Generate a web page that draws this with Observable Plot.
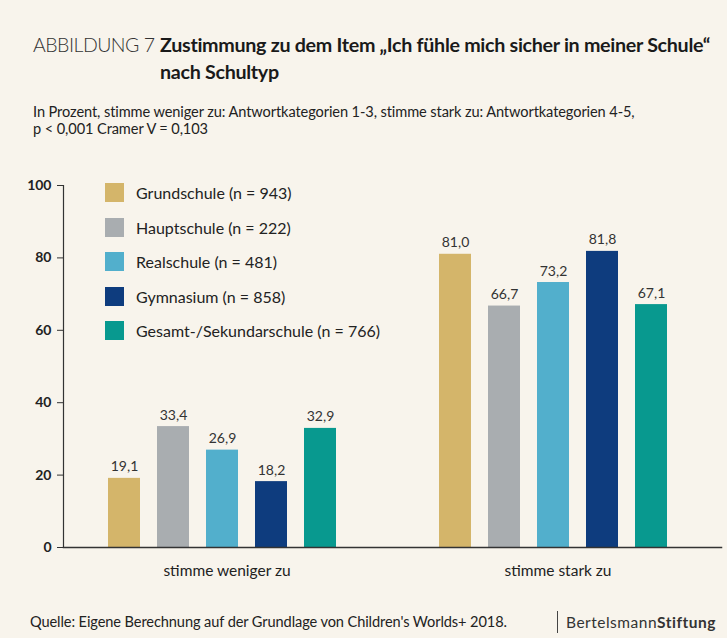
<!DOCTYPE html>
<html><head><meta charset="utf-8">
<script src="https://cdn.jsdelivr.net/npm/d3@7"></script>
<script src="https://cdn.jsdelivr.net/npm/@observablehq/plot@0.6"></script>
<style>
html,body{margin:0;padding:0;background:#f8f4ec;}
body{font-family:Lato,"Open Sans",sans-serif;color:#222;}
#wrap{position:relative;width:727px;height:638px;overflow:hidden;background:#f8f4ec;}
#abb{position:absolute;left:33px;top:31px;font-size:19.5px;line-height:27px;font-weight:300;color:#333;letter-spacing:-0.5px;}
#title{position:absolute;left:160px;top:31px;font-size:19.7px;line-height:27px;font-weight:700;color:#1a1a1a;letter-spacing:-0.3px;}
#sub{position:absolute;left:33px;top:103px;font-size:14.6px;line-height:17px;color:#222;letter-spacing:-0.1px;}
#chart{position:absolute;left:0;top:170px;}
#legend{position:absolute;left:105px;top:183px;}
.li{display:flex;align-items:center;height:19px;margin-bottom:15.5px;}
.sw{width:19px;height:19px;margin-right:12px;flex:none;}
.lt{font-size:16px;color:#222;}
#src{position:absolute;left:30px;top:613px;font-size:14.6px;color:#222;letter-spacing:-0.1px;}
#brand{position:absolute;left:557px;top:611px;height:22px;border-left:1.2px solid #444;padding-left:8px;font-size:15.5px;line-height:22px;color:#333;letter-spacing:0.5px;}
</style></head>
<body>
<div id="wrap">
  <div id="abb">ABBILDUNG 7</div>
  <div id="title">Zustimmung zu dem Item „Ich fühle mich sicher in meiner Schule“<br>nach Schultyp</div>
  <div id="sub">In Prozent, stimme weniger zu: Antwortkategorien 1-3, stimme stark zu: Antwortkategorien 4-5,<br>p &lt; 0,001 Cramer V = 0,103</div>
  <div id="chart"></div>
  <div id="legend"></div>
  <div id="src">Quelle: Eigene Berechnung auf der Grundlage von Children's Worlds+ 2018.</div>
  <div id="brand">Bertelsmann<b>Stiftung</b></div>
</div>
<script>
const groups = ["stimme weniger zu", "stimme stark zu"];
const schools = ["Grundschule", "Hauptschule", "Realschule", "Gymnasium", "Gesamt-/Sekundarschule"];
const nValues = [943, 222, 481, 858, 766];
const wenigerValues = [19.1, 33.4, 26.9, 18.2, 32.9];
const starkValues = [81.0, 66.7, 73.2, 81.8, 67.1];
const colors = ["#d4b56a", "#a9adb0", "#52afcc", "#0e3c7e", "#08998f"];
const yTicks = [0, 20, 40, 60, 80, 100];

const seriesByGroup = [wenigerValues, starkValues];
const rows = groups.flatMap((g, gi) => schools.map((s, i) => ({group: g, school: s, value: seriesByGroup[gi][i]})));
const fmt = v => d3.format(".1f")(v).replace(".", ",");

const chart = Plot.plot({
  width: 727,
  height: 420,
  marginLeft: 62,
  marginRight: 5,
  marginTop: 15,
  marginBottom: 43,
  style: {background: "transparent", fontFamily: "Lato, sans-serif", color: "#222"},
  fx: {domain: groups, paddingInner: 0.012, paddingOuter: 0, label: null},
  x: {domain: schools, paddingInner: 0.34, paddingOuter: 0.95, align: 0.455, axis: null},
  y: {domain: [0, 100], axis: null},
  color: {domain: schools, range: colors},
  marks: [
    Plot.barY(rows, {fx: "group", x: "school", y: "value", fill: "school"}),
    Plot.text(rows, {fx: "group", x: "school", y: "value", text: d => fmt(d.value), dy: -7, lineAnchor: "bottom", fontSize: 14, fill: "#333"}),
    Plot.axisY({ticks: yTicks, tickSize: 6, tickPadding: 6, fontSize: 14, fontWeight: "bold", stroke: "#333", label: null}),
    Plot.frame({anchor: "left", facet: "super", stroke: "#333", strokeWidth: 1.2}),
    Plot.frame({anchor: "bottom", facet: "super", stroke: "#333", strokeWidth: 1.5}),
    Plot.axisFx({anchor: "bottom", tickSize: 0, tickPadding: 17, fontSize: 15.5, label: null})
  ]
});
document.getElementById("chart").appendChild(chart);

const legend = document.getElementById("legend");
schools.forEach((s, i) => {
  const row = document.createElement("div");
  row.className = "li";
  const sw = document.createElement("div");
  sw.className = "sw";
  sw.style.background = colors[i];
  const t = document.createElement("div");
  t.className = "lt";
  t.textContent = `${s} (n = ${nValues[i]})`;
  row.appendChild(sw); row.appendChild(t);
  legend.appendChild(row);
});
</script>
</body></html>
